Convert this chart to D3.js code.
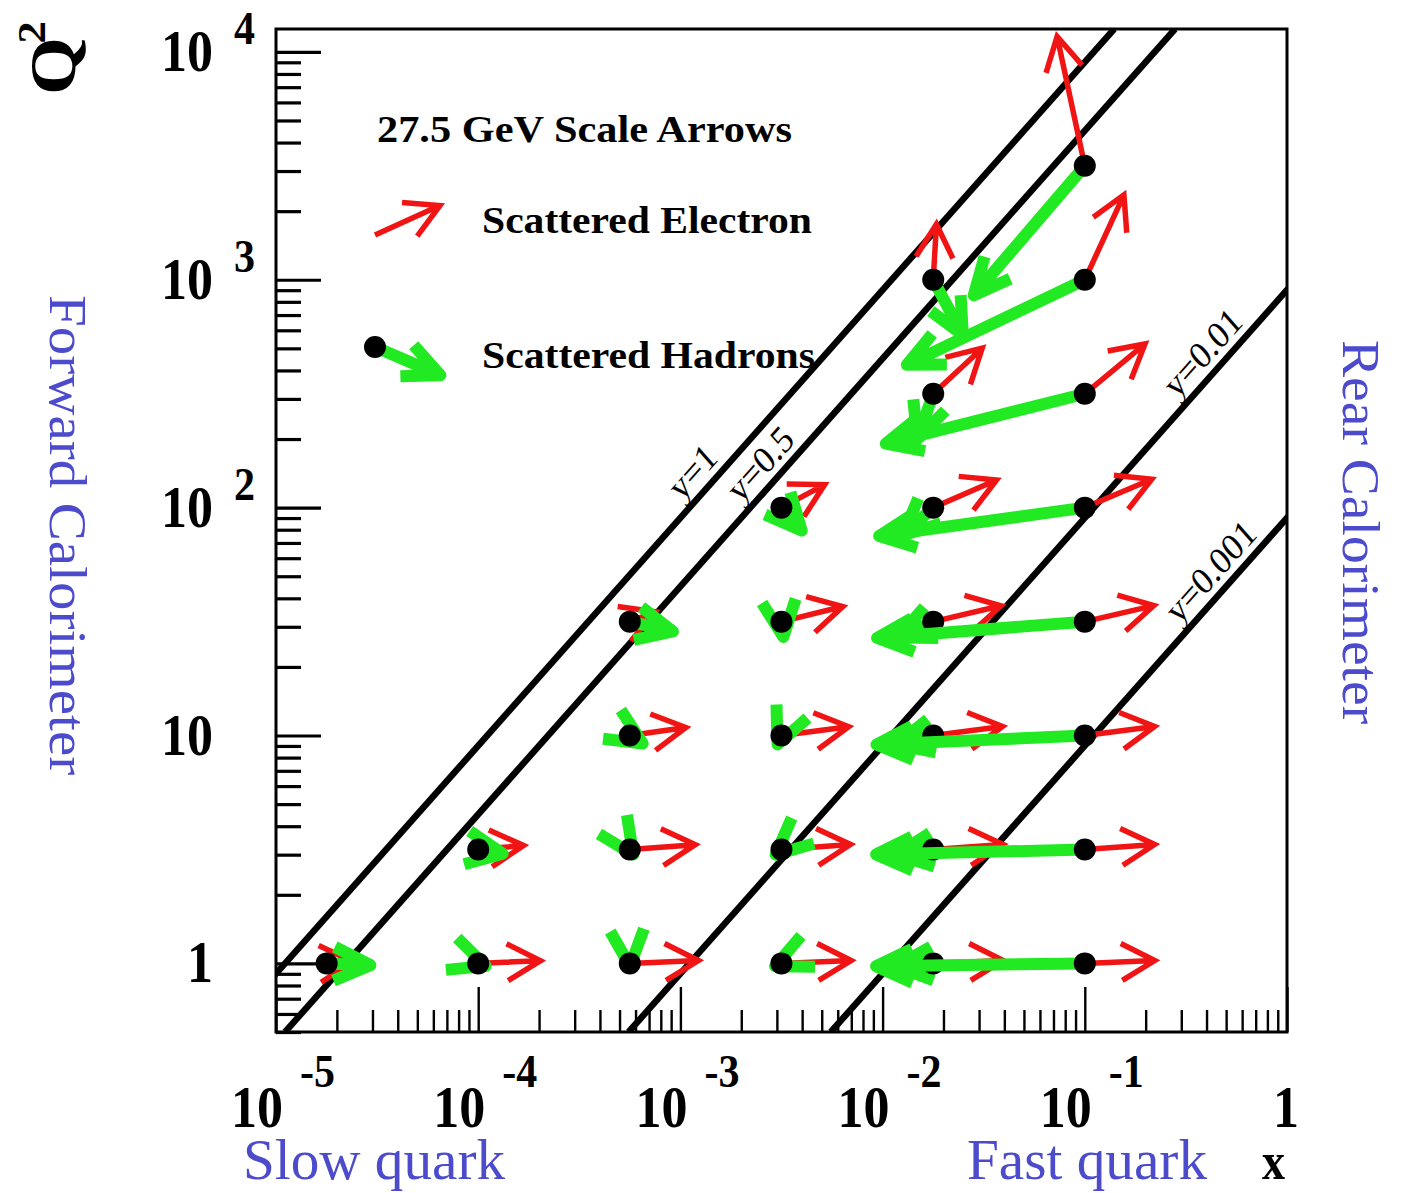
<!DOCTYPE html>
<html>
<head>
<meta charset="utf-8">
<script src="https://cdn.jsdelivr.net/npm/d3@7"></script>
<style>
body { margin: 0; background: #fff; }
</style>
</head>
<body>
<script>
// beam energies (GeV) used for the constant-y lines
const eBeam = 27.5
const pBeam = 820

// kinematic points: Bjorken x and Q^2 of every dot
const pointX = [1.78e-5, 1e-4, 5.62e-4, 3.16e-3, 1.78e-2, 0.1,
	1e-4, 5.62e-4, 3.16e-3, 1.78e-2, 0.1,
	5.62e-4, 3.16e-3, 1.78e-2, 0.1,
	5.62e-4, 3.16e-3, 1.78e-2, 0.1,
	3.16e-3, 1.78e-2, 0.1,
	1.78e-2, 0.1,
	1.78e-2, 0.1,
	0.1]
const pointQ2 = [1, 1, 1, 1, 1, 1,
	3.16, 3.16, 3.16, 3.16, 3.16,
	10, 10, 10, 10,
	31.6, 31.6, 31.6, 31.6,
	100, 100, 100,
	316, 316,
	1000, 1000,
	3162]

// scattered electron: energy (GeV) and direction (deg, 0 = rear, + = up)
const elecE = [10.4, 24.5, 27.0, 27.4, 27.5, 27.5,
	17.9, 25.8, 27.2, 27.5, 27.5,
	22.2, 26.6, 27.4, 27.6,
	10.6, 24.7, 27.2, 27.7,
	18.8, 26.7, 28.1,
	25.0, 29.4,
	19.5, 33.5,
	46.6]
const elecAng = [3.4, 2.2, 2.1, 2.1, 2.1, 2.1,
	4.6, 3.8, 3.7, 3.7, 3.7,
	7.3, 6.7, 6.6, 6.6,
	18.9, 12.4, 11.8, 11.7,
	25.4, 21.3, 20.7,
	39.7, 36.4,
	86.3, 62.7,
	103.5]

// scattered hadrons: energy (GeV) and direction (deg)
const hadE = [17.2, 3.1, 1.0, 2.7, 14.6, 82.0,
	9.7, 2.2, 2.9, 14.6, 82.0,
	5.8, 3.5, 14.7, 81.9,
	17.3, 5.4, 14.8, 81.8,
	11.3, 15.4, 81.4,
	17.1, 80.1,
	22.6, 76.0,
	62.9]
const hadAng = [-2.1, -17.6, -84.8, -158, -176, -179.3,
	-8.5, -53, -142, -173, -178.8,
	-29, -116, -167.6, -177.8,
	-11.5, -82, -158, -176,
	-45.4, -141, -173,
	-111.5, -167.4,
	-59, -156.9,
	-133.9]

// constant inelasticity lines and where their labels sit (x)
const yLines = [1, 0.5, 0.01, 0.001]
const yLineLabels = ["y=1", "y=0.5", "y=0.01", "y=0.001"]
const yLabelX = [1.35e-3, 2.92e-3, 0.45, 0.493]

const xTicks = [1e-5, 1e-4, 1e-3, 1e-2, 1e-1, 1]
const yTicks = [1, 10, 100, 1000, 10000]

const W = 1403, H = 1193
const S = 1.13 // the picture is a bit stretched vertically
const plot = {left: 276, right: 1287, top: 29, bottom: 1032}
const serif = '"Liberation Serif", "Times New Roman", serif'
const red = "#f01414"
const green = "#22ea22"
const blue = "#4b4bcc"

let svg = d3.select('body')
	.append('svg')
	.attr('width', W)
	.attr('height', H)
	.style('font-family', serif)

//scales
const x = d3.scaleLog().domain([1e-5, 1]).range([plot.left, plot.right])
const y = d3.scaleLog().domain([0.5, 12600]).range([plot.bottom, plot.top])
const gevX = d3.scaleLinear().domain([0, 27.5]).range([0, 70])
const gevY = d3.scaleLinear().domain([0, 27.5]).range([0, 78.5])

//text helper, stretched like the original
function txt(g, px, py, str, opts = {}) {
	const t = g.append('text')
		.attr('transform', `translate(${px},${py}) scale(1,${S})` + (opts.rot ? ` rotate(${opts.rot})` : ''))
		.attr('font-size', opts.size || 30)
		.attr('font-weight', opts.bold ? 'bold' : 'normal')
		.attr('text-anchor', opts.anchor || 'start')
		.attr('fill', opts.fill || 'black')
		.text(str)
	if (opts.len) t.attr('textLength', opts.len).attr('lengthAdjust', 'spacingAndGlyphs')
	return t
}

//clip
svg.append('defs').append('clipPath').attr('id', 'clip')
	.append('rect')
	.attr('x', plot.left).attr('y', plot.top)
	.attr('width', plot.right - plot.left).attr('height', plot.bottom - plot.top)

//constant y lines
const s = 4 * eBeam * pBeam
const yMin = y.domain()[0], yMax = y.domain()[1]
const line = d3.line().x(d => x(d[0])).y(d => y(d[1]))
const lineG = svg.append('g').attr('clip-path', 'url(#clip)')
yLines.forEach(v => {
	lineG.append('path')
		.attr('d', line([[yMin / (s * v), yMin], [yMax / (s * v), yMax]]))
		.attr('stroke', 'black')
		.attr('stroke-width', 6.5)
		.attr('fill', 'none')
})
const lineAng = Math.atan2((y(10) - y(1)) / S, x(10) - x(1)) * 180 / Math.PI
yLines.forEach((v, i) => {
	const xv = yLabelX[i]
	txt(svg, x(xv), y(s * v * xv), yLineLabels[i], {rot: lineAng, size: 34, anchor: 'middle'})
		.attr('dy', -9)
})

//frame
svg.append('rect')
	.attr('x', plot.left).attr('y', plot.top)
	.attr('width', plot.right - plot.left).attr('height', plot.bottom - plot.top)
	.attr('fill', 'none').attr('stroke', 'black').attr('stroke-width', 3)

//ticks
const isMajor = v => Math.abs(Math.log10(v) - Math.round(Math.log10(v))) < 1e-6
const yAll = y.ticks()
const xAll = x.ticks()
function tickGroup(axis, tr, w) {
	svg.append('g')
		.attr('transform', tr)
		.call(axis)
		.call(g => g.select('.domain').remove())
		.call(g => g.selectAll('.tick line').attr('stroke', 'black').attr('stroke-width', w))
		.call(g => g.selectAll('.tick text').remove())
}
tickGroup(d3.axisRight(y).tickValues(yAll.filter(v => !isMajor(v))).tickSize(25), `translate(${plot.left},0)`, 3.2)
tickGroup(d3.axisRight(y).tickValues(yAll.filter(isMajor)).tickSize(45), `translate(${plot.left},0)`, 3.2)
tickGroup(d3.axisTop(x).tickValues(xAll.filter(v => !isMajor(v))).tickSize(22), `translate(0,${plot.bottom})`, 2.4)
tickGroup(d3.axisTop(x).tickValues(xAll.filter(isMajor)).tickSize(45), `translate(0,${plot.bottom})`, 2.4)

//tick labels
const labG = svg.append('g')
yTicks.forEach(v => {
	const e = Math.round(Math.log10(v))
	if (e <= 1) {
		txt(labG, 213, y(v) + 19, String(v), {size: 52, bold: true, anchor: 'end'})
	} else {
		txt(labG, 213, y(v) + 19, "10", {size: 52, bold: true, anchor: 'end'})
		txt(labG, 234, y(v) - 8, String(e), {size: 42, bold: true})
	}
})
xTicks.forEach(v => {
	const e = Math.round(Math.log10(v))
	if (e === 0) {
		txt(labG, x(v) - 1, 1127, "1", {size: 52, bold: true, anchor: 'middle'})
	} else {
		txt(labG, x(v) + 7, 1127, "10", {size: 52, bold: true, anchor: 'end'})
		txt(labG, x(v) + 24, 1087, String(e), {size: 42, bold: true})
	}
})

//titles
const q = txt(svg, 75, 95, "Q", {size: 66, bold: true, rot: -90})
q.append('tspan').attr('font-size', 40).attr('dy', -30).attr('dx', -6).text("2")
txt(svg, 1262, 1179, "x", {size: 46, bold: true})
txt(svg, 243, 1179, "Slow quark", {size: 50, fill: blue, len: 262})
txt(svg, 967, 1179, "Fast quark", {size: 50, fill: blue, len: 240})
txt(svg, 50, 295, "Forward Calorimeter", {size: 52, fill: blue, rot: 90, len: 425})
txt(svg, 1343, 340, "Rear Calorimeter", {size: 52, fill: blue, rot: 90, len: 340})

//arrows
const rad = Math.PI / 180
function vec(E, ang) {
	return [gevX(E * Math.cos(ang * rad)), -gevY(E * Math.sin(ang * rad))]
}
function arrowPath(x0, y0, dx, dy, len, half) {
	const x1 = x0 + dx, y1 = y0 + dy
	const phi = Math.atan2(dy, dx)
	const a1 = phi + Math.PI - half, a2 = phi + Math.PI + half
	return `M${x0},${y0}L${x1},${y1}` +
		`M${x1 + len * Math.cos(a1)},${y1 + len * Math.sin(a1)}L${x1},${y1}` +
		`L${x1 + len * Math.cos(a2)},${y1 + len * Math.sin(a2)}`
}
function redArrow(g, px, py, E, ang) {
	const [dx, dy] = vec(E, ang)
	g.append('path')
		.attr('d', arrowPath(px, py, dx, dy, 38, 29 * rad))
		.attr('fill', 'none').attr('stroke', red)
		.attr('stroke-width', 5.5).attr('stroke-linejoin', 'miter')
}
function greenArrow(g, px, py, E, ang) {
	const [dx, dy] = vec(E, ang)
	g.append('path')
		.attr('d', arrowPath(px, py, dx, dy, 40, 25 * rad))
		.attr('fill', 'none').attr('stroke', green)
		.attr('stroke-width', 12).attr('stroke-linejoin', 'round')
}

const points = pointX.map((d, i) => ({x: d, q2: pointQ2[i], eE: elecE[i], eA: elecAng[i], hE: hadE[i], hA: hadAng[i]}))
const ptG = svg.append('g')
points.forEach(p => {
	const px = x(p.x), py = y(p.q2)
	redArrow(ptG, px, py, p.eE, p.eA)
	greenArrow(ptG, px, py, p.hE, p.hA)
	ptG.append('circle').attr('cx', px).attr('cy', py).attr('r', 11).attr('fill', 'black')
})

//legend
const leg = svg.append('g')
txt(leg, 377, 142, "27.5 GeV Scale Arrows", {size: 34, bold: true, len: 415})
redArrow(leg, 375, 235, 27.5, 22)
txt(leg, 482, 233, "Scattered Electron", {size: 34, bold: true, len: 330})
greenArrow(leg, 375, 347, 27.5, -21)
leg.append('circle').attr('cx', 375).attr('cy', 347).attr('r', 11).attr('fill', 'black')
txt(leg, 482, 368, "Scattered Hadrons", {size: 34, bold: true, len: 333})
</script>
</body>
</html>
